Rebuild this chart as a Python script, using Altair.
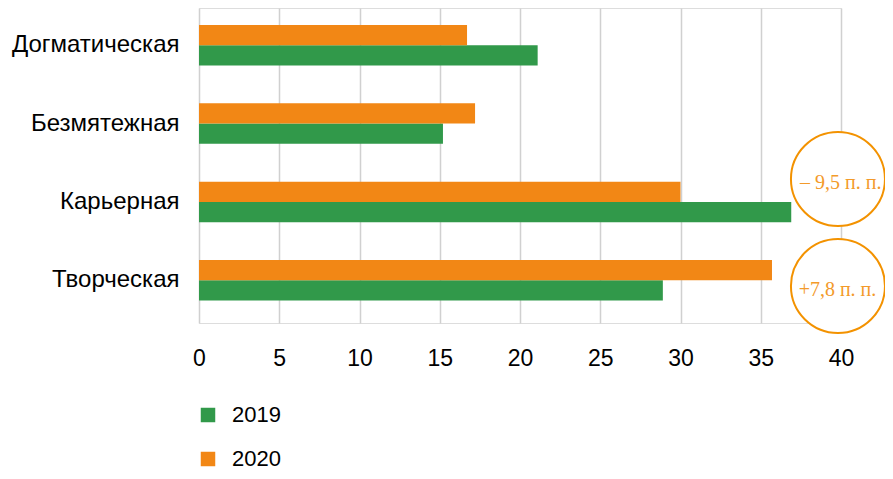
import altair as alt
import pandas as pd

categories = ["Догматическая", "Безмятежная", "Карьерная", "Творческая"]
values_2019 = [21.1, 15.2, 36.9, 28.9]
values_2020 = [16.7, 17.2, 30.0, 35.7]
series = ["2019", "2020"]
colors = ["#31994A", "#F28715"]
x_ticks = [0, 5, 10, 15, 20, 25, 30, 35, 40]

ann_categories = ["Карьерная", "Творческая"]
ann_texts = ["– 9,5 п. п.", "+7,8 п. п."]
ann_circle_x = [39.81, 39.81]
ann_text_x = [39.98, 39.78]
ann_circle_dy = [-2.6, 26]
ann_text_dy = [1.5, 30]

rows = []
for c, v19, v20 in zip(categories, values_2019, values_2020):
    rows.append({"cat": c, "year": "2019", "value": v19})
    rows.append({"cat": c, "year": "2020", "value": v20})
df = pd.DataFrame(rows)

ann = pd.DataFrame({"cat": ann_categories, "text": ann_texts,
                    "cx": ann_circle_x, "tx": ann_text_x,
                    "cdy": ann_circle_dy, "tdy": ann_text_dy})

W, H = 642, 315

y_scale = alt.Scale(domain=categories, paddingInner=0.483, paddingOuter=0.252, align=0.43)
x_scale = alt.Scale(domain=[0, 40], nice=False)

bars = alt.Chart(df).mark_bar(cornerRadius=0).encode(
    y=alt.Y("cat:N", scale=y_scale, sort=categories,
            axis=alt.Axis(title=None, domain=False, ticks=False, labelFontSize=24,
                          labelFont="Liberation Sans", labelColor="#000000",
                          labelPadding=20, grid=False)),
    yOffset=alt.YOffset("year:N", scale=alt.Scale(domain=["2020", "2019"], paddingInner=0, paddingOuter=0)),
    x=alt.X("value:Q", scale=x_scale,
            axis=alt.Axis(title=None, values=x_ticks, domain=False, ticks=False,
                          labelFontSize=23, labelFont="Liberation Sans", labelColor="#000000",
                          labelPadding=24, labelFlush=False, grid=True,
                          gridColor="#D0D0D0", gridWidth=1.5)),
    color=alt.Color("year:N", scale=alt.Scale(domain=series, range=colors),
                    legend=alt.Legend(title=None, orient="none", legendX=-2, legendY=396,
                                      symbolType="square", symbolSize=210, symbolStrokeWidth=0,
                                      labelFontSize=22, labelFont="Liberation Sans",
                                      labelColor="#000000", rowPadding=22, labelOffset=13,
                                      direction="vertical")),
)

circles = alt.Chart(ann).mark_point(shape="circle", size=8836, filled=True,
                                    fill="#FFFFFF", stroke="#F39200", strokeWidth=2,
                                    opacity=1).encode(
    x=alt.X("cx:Q", scale=x_scale),
    y=alt.Y("cat:N", scale=y_scale, sort=categories),
    yOffset=alt.YOffset("cdy:Q", scale=None),
)

texts = alt.Chart(ann).mark_text(font="Liberation Serif", fontSize=20, color="#F39A2A",
                                 align="center", baseline="middle").encode(
    x=alt.X("tx:Q", scale=x_scale),
    y=alt.Y("cat:N", scale=y_scale, sort=categories),
    yOffset=alt.YOffset("tdy:Q", scale=None),
    text="text:N",
)

chart = alt.layer(bars, circles, texts).properties(
    width=W, height=H,
    autosize=alt.AutoSizeParams(type="none"),
    padding={"left": 191, "top": 0, "right": 44, "bottom": 148},
).configure_view(stroke=None).configure(background="#FFFFFF")

chart.save("out.html", embed_options={"renderer": "svg", "actions": False})
